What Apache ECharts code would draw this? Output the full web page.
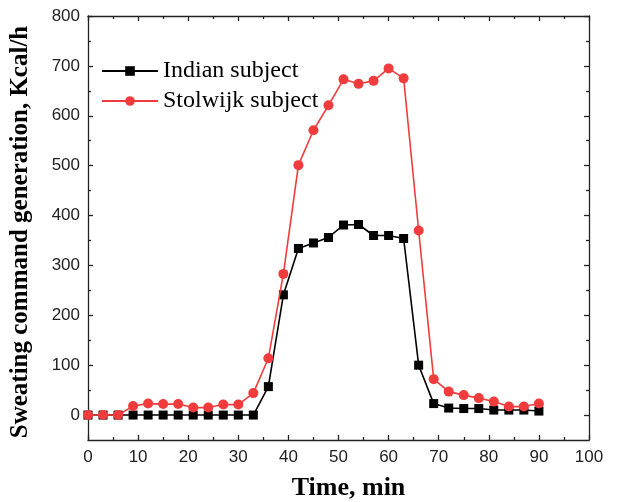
<!DOCTYPE html>
<html><head><meta charset="utf-8">
<script src="https://cdn.jsdelivr.net/npm/echarts@6/dist/echarts.min.js"></script>
<style>html,body{margin:0;padding:0;background:#fff}#c{width:628px;height:502px}</style>
</head><body><div id="c"></div>
<script>
const times = [0,3,6,9,12,15,18,21,24,27,30,33,36,39,42,45,48,51,54,57,60,63,66,69,72,75,78,81,84,87,90];
const indian = [0,0,0,0,0,0,0,0,0,0,0,0,57,241,334,345,356,381,382,360,360,354,100,23,14,13,13,10,10,10,8];
const stolwijk = [0,0,0,18,23,22,22,15,15,21,21,44,114,283,501,571,621,673,664,670,695,675,370,72,47,40,34,27,17,17,23];
const xTicks = [0,10,20,30,40,50,60,70,80,90,100];
const yTicks = [0,100,200,300,400,500,600,700,800];
const yMinor = [50,150,250,350,450,550,650,750];
const names = ['Indian subject','Stolwijk subject'];

const axCol = '#222';
function yAx(pos, ticks, len, labels, line){
  return {type:'value', position:pos, min:-50, max:800, interval:50,
    axisLine:{show:line, onZero:false, lineStyle:{color:axCol, width:1.3}},
    axisTick:{show:true, inside:true, length:len, customValues:ticks, lineStyle:{color:axCol, width:1.3}},
    axisLabel:{show:labels, customValues:yTicks, color:'#222', fontFamily:'Liberation Sans', fontSize:17, margin:8,
      formatter:v=> (v>=0 && v%100===0) ? String(v) : ''},
    splitLine:{show:false}};
}
function xAx(pos, labels){
  return {type:'value', position:pos, min:0, max:100, interval:10,
    axisLine:{show:true, onZero:false, lineStyle:{color:axCol, width:1.3}},
    axisTick:{show:true, inside:true, length:5, lineStyle:{color:axCol, width:1.3}},
    minorTick:{show:true, splitNumber:2, length:3, lineStyle:{color:axCol, width:1.3}},
    axisLabel:{show:labels, color:'#222', fontFamily:'Liberation Sans', fontSize:17, margin:9},
    splitLine:{show:false}, minorSplitLine:{show:false}};
}
const chart = echarts.init(document.getElementById('c'));
const xa0 = xAx('bottom', true);
xa0.name = 'Time, min'; xa0.nameLocation='middle'; xa0.nameGap=35;
xa0.nameTextStyle = {fontFamily:'Liberation Serif', fontWeight:'bold', fontSize:26, color:'#000', padding:[0,0,0,20]};
const ya0 = yAx('left', yTicks, 5, true, true);
ya0.name = 'Sweating command generation, Kcal/h'; ya0.nameLocation='middle'; ya0.nameGap=55;
ya0.nameTextStyle = {fontFamily:'Liberation Serif', fontWeight:'bold', fontSize:25, color:'#000', padding:[0,8,0,0]};
chart.setOption({
  animation:false,
  grid:{left:88, right:39, top:16, bottom:62, containLabel:false, outerBoundsMode:'none'},
  legend:{left:96, top:54, orient:'vertical', itemWidth:56, itemHeight:12, itemGap:6,
    textStyle:{fontFamily:'Liberation Serif', fontSize:24, color:'#000'},
    data:names},
  xAxis:[xa0, xAx('top', false)],
  yAxis:[ya0, yAx('left', yMinor, 3, false, false), yAx('right', yTicks, 5, false, true), yAx('right', yMinor, 3, false, false)],
  series:[
    {name:names[0], type:'line', data:times.map((t,i)=>[t,indian[i]]), symbol:'rect', symbolSize:9,
      lineStyle:{color:'#000', width:1.6}, itemStyle:{color:'#000'}, z:2},
    {name:names[1], type:'line', data:times.map((t,i)=>[t,stolwijk[i]]), symbol:'circle', symbolSize:10,
      lineStyle:{color:'#f03c3c', width:1.6}, itemStyle:{color:'#f03c3c'}, z:3}
  ]
});
</script></body></html>
